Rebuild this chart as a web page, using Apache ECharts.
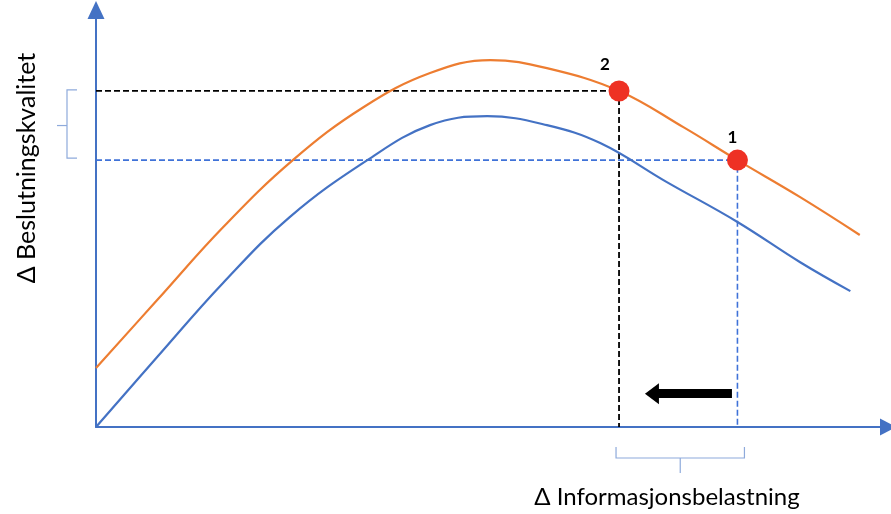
<!DOCTYPE html>
<html>
<head>
<meta charset="utf-8">
<script src="https://cdn.jsdelivr.net/npm/echarts@6/dist/echarts.min.js"></script>
<style>html,body{margin:0;padding:0;background:#fff}#c{width:891px;height:514px}</style>
</head>
<body>
<div id="c"></div>
<script>
// Orange curve (higher quality curve)
const orangeX = [0, 7.8, 16.2, 25.1, 34.1, 42.6, 50.3, 57.5, 66.7, 74.9, 81.8, 89.8, 97.4];
const orangeY = [14.5, 31.2, 49.1, 65.6, 78.6, 87.0, 90.2, 88.2, 82.6, 73.7, 65.6, 56.5, 47.2];
// Blue curve
const blueX = [0, 7.8, 16.2, 24.7, 34.6, 42.6, 49.9, 57.5, 64.3, 72.8, 81.8, 89.8, 96.2];
const blueY = [0, 17.2, 35.4, 51.6, 65.6, 74.2, 76.4, 74.2, 69.8, 60.2, 50.4, 40.5, 33.4];
// Marked points on orange curve
const pointNames = ['1', '2'];
const pointX = [81.8, 66.7];
const pointY = [65.6, 82.6];
// Shift arrow (from point 1 toward point 2)
const arrowFrom = [81.1, 8.2];
const arrowTo = [70.9, 8.2];
const xTitle = 'Δ Informasjonsbelastning';
const yTitle = 'Δ Beslutningskvalitet';

const zip = (a, b) => a.map((v, i) => [v, b[i]]);
const axisBlue = '#4472C4';
const chart = echarts.init(document.getElementById('c'), null, {renderer: 'canvas'});

const p1 = [pointX[0], pointY[0]];
const p2 = [pointX[1], pointY[1]];

const option = {
  animation: false,
  backgroundColor: '#fff',
  grid: {left: 96, top: 10, width: 792, height: 417, containLabel: false, outerBoundsMode: 'none'},
  xAxis: {
    type: 'value', min: 0, max: 101,
    axisLine: {show: true, symbol: ['none', 'triangle'], symbolSize: [17, 16], lineStyle: {color: axisBlue, width: 2}},
    axisTick: {show: false}, axisLabel: {show: false}, splitLine: {show: false}
  },
  yAxis: {
    type: 'value', min: 0, max: 102.5,
    axisLine: {show: true, symbol: ['none', 'triangle'], symbolSize: [17, 18], lineStyle: {color: axisBlue, width: 2}},
    axisTick: {show: false}, axisLabel: {show: false}, splitLine: {show: false}
  },
  series: [
    {
      type: 'line', silent: true, symbol: 'none', z: 1,
      data: [[0, p2[1]], p2, [p2[0], 0]],
      lineStyle: {color: '#000', width: 1.8, type: [6, 3]}
    },
    {
      type: 'line', silent: true, symbol: 'none', z: 1,
      data: [[0, p1[1]], p1, [p1[0], 0]],
      lineStyle: {color: '#3F72D8', width: 1.6, type: [6, 3]}
    },
    {
      type: 'line', silent: true, symbol: 'none', smooth: 0.4, z: 2,
      data: zip(orangeX, orangeY),
      lineStyle: {color: '#ED7D31', width: 2.2}
    },
    {
      type: 'line', silent: true, symbol: 'none', smooth: 0.4, z: 2,
      data: zip(blueX, blueY),
      lineStyle: {color: '#4472C4', width: 2.2}
    },
    {
      type: 'scatter', silent: true, z: 5,
      symbolSize: 21,
      itemStyle: {color: '#EE3124', opacity: 1},
      data: pointNames.map((n, i) => ({
        name: n, value: [pointX[i], pointY[i]],
        label: {
          show: true, formatter: n, position: 'inside',
          offset: i === 0 ? [-5, -23] : [-14, -26],
          color: '#000', fontSize: 17, fontFamily: 'Lato', fontWeight: 'bold'
        }
      }))
    },
    {
      type: 'line', silent: true, data: [],
      markLine: {
        silent: true, symbol: ['none', 'triangle'], symbolSize: [21, 14],
        label: {show: false},
        lineStyle: {color: '#000', width: 9, type: 'solid', opacity: 1},
        data: [[{coord: arrowFrom}, {coord: arrowTo}]]
      }
    }
  ]
};
chart.setOption(option);

// braces and axis titles tied to the data via the axes
const tp1 = chart.convertToPixel({gridIndex: 0}, p1);
const tp2 = chart.convertToPixel({gridIndex: 0}, p2);
const braceColor = '#8EAADB';
const ym = (tp1[1] + tp2[1]) / 2;
const xm = (tp1[0] + tp2[0]) / 2 + 1;
const by = 458;
chart.setOption({
  graphic: [
    {
      type: 'polyline', silent: true,
      shape: {points: [[77, tp2[1] - 1], [67, tp2[1] - 1], [67, tp1[1] - 2], [77, tp1[1] - 2]]},
      style: {stroke: braceColor, lineWidth: 1.2, fill: null}
    },
    {
      type: 'line', silent: true,
      shape: {x1: 67, y1: ym, x2: 57, y2: ym},
      style: {stroke: braceColor, lineWidth: 1.2}
    },
    {
      type: 'polyline', silent: true,
      shape: {points: [[tp2[0] - 3, by - 11], [tp2[0] - 3, by], [tp1[0] + 7, by], [tp1[0] + 7, by - 11]]},
      style: {stroke: braceColor, lineWidth: 1.2, fill: null}
    },
    {
      type: 'line', silent: true,
      shape: {x1: xm + 1, y1: by, x2: xm + 1, y2: by + 15},
      style: {stroke: braceColor, lineWidth: 1.2}
    },
    {
      type: 'text', silent: true, x: 667, y: 497,
      style: {text: xTitle, fill: '#000', font: '24px Lato', textAlign: 'center', textVerticalAlign: 'middle'}
    },
    {
      type: 'text', silent: true, x: 27, y: 168, rotation: Math.PI / 2,
      style: {text: yTitle, fill: '#000', font: '25px Lato', textAlign: 'center', textVerticalAlign: 'middle'}
    }
  ]
});
</script>
</body>
</html>
